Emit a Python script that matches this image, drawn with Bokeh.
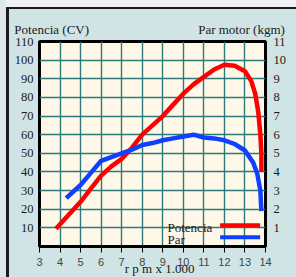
from bokeh.plotting import figure
from bokeh.models import Range1d, LinearAxis, FixedTicker, Label
from bokeh.embed import file_html
from bokeh.resources import INLINE

# ---- data ----
x_ticks = [3, 4, 5, 6, 7, 8, 9, 10, 11, 12, 13, 14]
cv_ticks = [10, 20, 30, 40, 50, 60, 70, 80, 90, 100, 110]
kgm_ticks = [1, 2, 3, 4, 5, 6, 7, 8, 9, 10, 11]

rpm_pot = [3.8, 4.5, 5.0, 5.5, 6.0, 6.5, 7.0, 7.5, 8.0, 8.5, 9.0, 9.5, 10.0,
           10.5, 11.0, 11.5, 12.0, 12.5, 13.0, 13.3, 13.5, 13.65, 13.75, 13.8, 13.8]
potencia = [9.5, 18, 24, 31, 38, 43, 47, 53, 60, 65, 70, 76, 82,
            87, 91, 95, 97.5, 97, 94, 89, 82, 72, 60, 50, 40]

rpm_par = [4.3, 5.0, 5.5, 6.0, 6.5, 7.0, 7.5, 8.0, 8.5, 9.0, 9.5, 10.0, 10.5,
           11.0, 11.5, 12.0, 12.5, 13.0, 13.4, 13.6, 13.75, 13.8]
par = [2.6, 3.3, 3.95, 4.6, 4.8, 5.0, 5.2, 5.45, 5.55, 5.7, 5.8, 5.9, 6.0,
       5.85, 5.8, 5.7, 5.5, 5.15, 4.5, 3.9, 3.0, 1.9]

series_names = ["Potencia", "Par"]
axis_titles = ["Potencia (CV)", "Par motor (kgm)"]
title_x = "r p m x 1.000"

# ---- style ----
FONT = "Liberation Serif"
TXT = "#1a1a1a"
RED = "#ff0000"
BLUE = "#1040ff"
PANEL = "#d0e4e6"
PLOTBG = "#fff8e8"
GRID = "#2a7a7a"
DARK = "#1c1c1c"

p = figure(frame_width=226, frame_height=205,
           x_range=Range1d(3, 14), y_range=Range1d(0, 110),
           output_backend="svg", toolbar_location=None,
           min_border_left=39, min_border_right=31,
           min_border_top=41, min_border_bottom=31,
           background_fill_color=PLOTBG, border_fill_color=None)
p.styles = {"background": (
    "linear-gradient({d},{d}) 6px 7px / 3px 100% no-repeat, "
    "linear-gradient({d},{d}) 6px 7px / 100% 2px no-repeat, "
    "linear-gradient(#dde6eb,#dde6eb) 0 0 / 6px 100% no-repeat, "
    "linear-gradient(#eef2f5,#eef2f5) 0 0 / 100% 7px no-repeat, {p}"
).format(d=DARK, p=PANEL)}
p.extra_y_ranges = {"par": Range1d(0, 11)}
# helper ranges that only place the title texts
p.extra_x_ranges = {"titles": Range1d(0.9357, 2.1264),
                    "xtitle": Range1d(-0.0628, 1.9372)}

p.outline_line_color = "black"
p.outline_line_width = 3

p.xaxis.ticker = FixedTicker(ticks=x_ticks)
p.yaxis.ticker = FixedTicker(ticks=cv_ticks)
right = LinearAxis(y_range_name="par", ticker=FixedTicker(ticks=kgm_ticks))
p.add_layout(right, "right")
top = LinearAxis(x_range_name="titles", ticker=FixedTicker(ticks=[1, 2]),
                 major_label_overrides={1: axis_titles[0], 2: axis_titles[1]})
p.add_layout(top, "above")
xt = LinearAxis(x_range_name="xtitle", ticker=FixedTicker(ticks=[1]),
                major_label_overrides={1: title_x})
p.add_layout(xt, "below")

for ax in [p.xaxis[0], p.yaxis[0], right, top, xt]:
    ax.axis_line_color = None
    ax.major_tick_line_color = None
    ax.minor_tick_line_color = None
    ax.major_tick_out = 0
    ax.major_tick_in = 0
    ax.minor_tick_out = 0
    ax.minor_tick_in = 0
    ax.major_label_text_font = FONT
    ax.major_label_text_font_size = "12.5px"
    ax.major_label_text_color = TXT
top.major_label_text_font_size = "13px"
xt.major_label_text_font_size = "13px"
top.major_tick_out = 2
top.major_label_standoff = 5
xt.major_label_standoff = -8
p.yaxis[0].major_label_standoff = 6
right.major_label_standoff = 8
p.xaxis[0].major_label_standoff = 3

p.xgrid.grid_line_color = GRID
p.ygrid.grid_line_color = GRID
p.xgrid.grid_line_width = 1.4
p.ygrid.grid_line_width = 1.4

# curves
p.line(rpm_pot, potencia, line_color=RED, line_width=4.5, line_join="round")
p.line(rpm_par, par, y_range_name="par", line_color=BLUE, line_width=4.5,
       line_join="round")

# legend (drawn manually: label left, swatch right)
LEG_TX = 9.23
LEG_X0, LEG_X1 = 11.79, 13.74
LEG_Y = [11.4, 5.0]
LEG_TY = [10.0, 3.7]
p.segment(x0=[LEG_X0, LEG_X0], x1=[LEG_X1, LEG_X1], y0=LEG_Y, y1=LEG_Y,
          line_color=[RED, BLUE], line_width=4)
for name, ty in zip(series_names, LEG_TY):
    p.add_layout(Label(x=LEG_TX, y=ty, text=name, text_font=FONT,
                       text_font_size="13px", text_color=TXT,
                       text_align="left", text_baseline="alphabetic"))

open("out.html", "w").write(file_html(p, INLINE))
